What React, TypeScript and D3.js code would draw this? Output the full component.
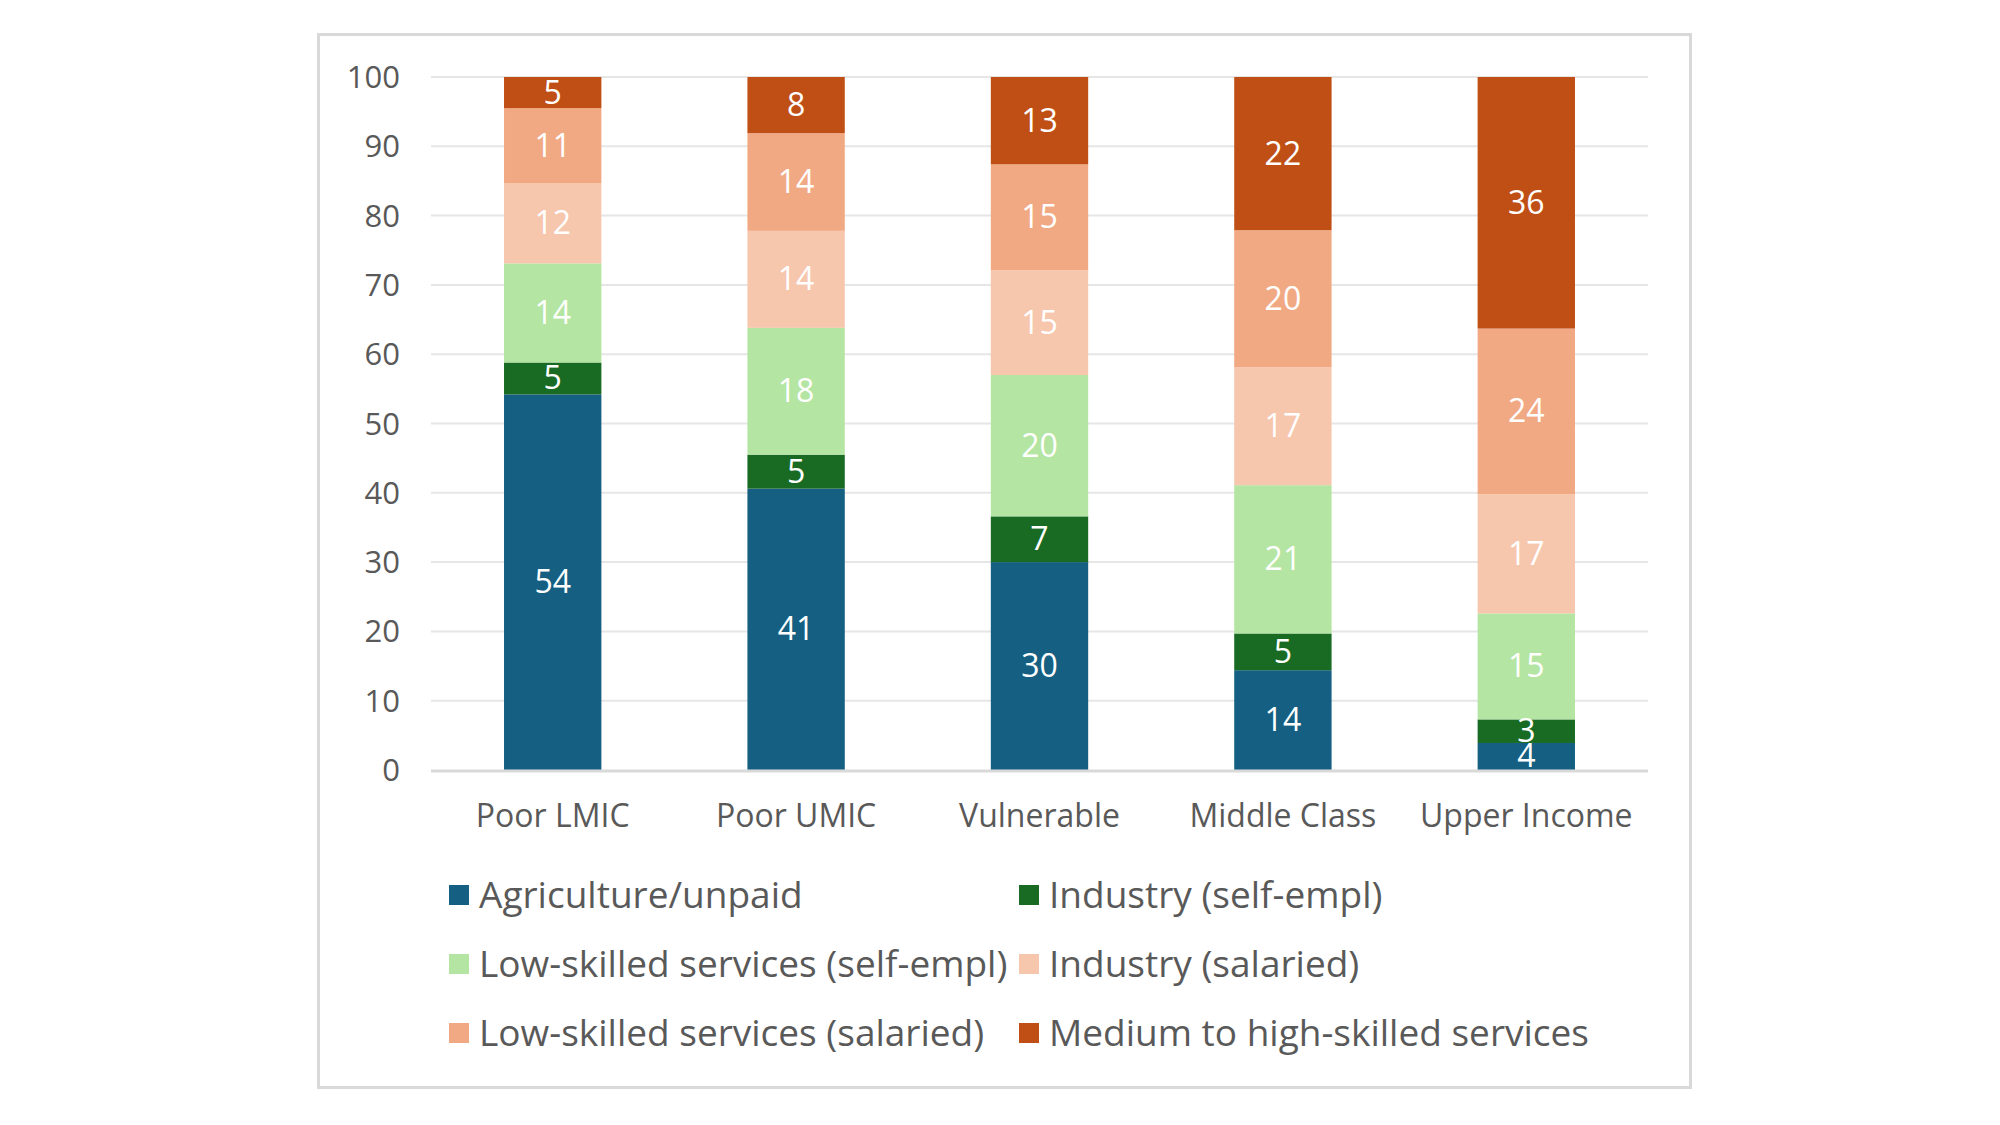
import React, { useEffect, useRef } from "react";
import * as d3 from "d3";

const categories = ["Poor LMIC", "Poor UMIC", "Vulnerable", "Middle Class", "Upper Income"];

const seriesNames = [
  "Agriculture/unpaid",
  "Industry (self-empl)",
  "Low-skilled services (self-empl)",
  "Industry (salaried)",
  "Low-skilled services (salaried)",
  "Medium to high-skilled services",
];

// shares (%) per category, bottom to top
const agriculture = [54.2, 40.6, 30.0, 14.4, 3.9];
const industrySelf = [4.6, 4.9, 6.6, 5.3, 3.4];
const lowSkilledSelf = [14.3, 18.3, 20.4, 21.4, 15.3];
const industrySalaried = [11.6, 14.0, 15.1, 17.0, 17.2];
const lowSkilledSalaried = [10.8, 14.1, 15.3, 19.8, 23.9];
const mediumHigh = [4.5, 8.1, 12.6, 22.1, 36.3];

const yTicks = [0, 10, 20, 30, 40, 50, 60, 70, 80, 90, 100];

const colors = ["#156082", "#196b24", "#b4e5a2", "#f6c6ad", "#f1a983", "#c04f15"];

const W = 2000;
const H = 1125;
const plot = { left: 431, right: 1648, top: 77, bottom: 770 };
const FONT = "'Open Sans', 'Liberation Sans', sans-serif";

const App: React.FC = () => {
  const svgRef = useRef<SVGSVGElement>(null);

  useEffect(() => {
    const svg = d3.select(svgRef.current);
    svg.selectAll("*").remove();

    const seriesValues = [
      agriculture,
      industrySelf,
      lowSkilledSelf,
      industrySalaried,
      lowSkilledSalaried,
      mediumHigh,
    ];
    const rows = categories.map((c, i) => {
      const row: Record<string, any> = { category: c };
      seriesNames.forEach((s, j) => (row[s] = seriesValues[j][i]));
      return row;
    });

    const stacked = d3.stack().keys(seriesNames)(rows as any);

    const x = d3
      .scaleBand()
      .domain(categories)
      .range([plot.left, plot.right])
      .paddingInner(0.6)
      .paddingOuter(0.3);

    const y = d3.scaleLinear().domain([0, 100]).range([plot.bottom, plot.top]);

    const color = d3.scaleOrdinal<string>().domain(seriesNames).range(colors);

    // outer frame
    svg
      .append("rect")
      .attr("x", 318.5)
      .attr("y", 34.5)
      .attr("width", 1372)
      .attr("height", 1053)
      .attr("fill", "#fff")
      .attr("stroke", "#d9d9d9")
      .attr("stroke-width", 3);

    // gridlines
    svg
      .append("g")
      .selectAll("line")
      .data(yTicks.filter((t) => t > 0))
      .enter()
      .append("line")
      .attr("x1", plot.left)
      .attr("x2", plot.right)
      .attr("y1", (d) => y(d))
      .attr("y2", (d) => y(d))
      .attr("stroke", "#e6e6e6")
      .attr("stroke-width", 2);

    // y tick labels
    svg
      .append("g")
      .selectAll("text")
      .data(yTicks)
      .enter()
      .append("text")
      .attr("x", 400)
      .attr("y", (d) => y(d) + 11)
      .attr("text-anchor", "end")
      .attr("font-family", FONT)
      .attr("font-size", 31)
      .attr("fill", "#595959")
      .text((d) => d);

    // bars
    const layer = svg
      .append("g")
      .selectAll("g")
      .data(stacked)
      .enter()
      .append("g")
      .attr("fill", (d) => color(d.key));

    layer
      .selectAll("rect")
      .data((d) => d)
      .enter()
      .append("rect")
      .attr("x", (d: any) => x(d.data.category) as number)
      .attr("y", (d) => y(d[1]))
      .attr("width", x.bandwidth())
      .attr("height", (d) => y(d[0]) - y(d[1]));

    // axis baseline
    svg
      .append("line")
      .attr("x1", plot.left)
      .attr("x2", plot.right)
      .attr("y1", y(0) + 1)
      .attr("y2", y(0) + 1)
      .attr("stroke", "#d9d9d9")
      .attr("stroke-width", 3);

    // value labels
    svg
      .append("g")
      .selectAll("g")
      .data(stacked)
      .enter()
      .append("g")
      .selectAll("text")
      .data((d) => d)
      .enter()
      .append("text")
      .attr("x", (d: any) => (x(d.data.category) as number) + x.bandwidth() / 2)
      .attr("y", (d) => (y(d[0]) + y(d[1])) / 2 + 11)
      .attr("text-anchor", "middle")
      .attr("font-family", FONT)
      .attr("font-size", 32)
      .attr("fill", "#fff")
      .text((d) => Math.round(d[1] - d[0]));

    // category labels
    svg
      .append("g")
      .selectAll("text")
      .data(categories)
      .enter()
      .append("text")
      .attr("x", (d) => (x(d) as number) + x.bandwidth() / 2)
      .attr("y", 827)
      .attr("text-anchor", "middle")
      .attr("font-family", FONT)
      .attr("font-size", 32)
      .attr("fill", "#595959")
      .text((d) => d);

    // legend: 2 columns, 3 rows
    const colX = [449, 1019];
    const rowY = [895, 964, 1033];
    const legend = svg
      .append("g")
      .selectAll("g")
      .data(seriesNames)
      .enter()
      .append("g")
      .attr("transform", (_, i) => `translate(${colX[i % 2]},${rowY[Math.floor(i / 2)]})`);

    legend
      .append("rect")
      .attr("x", 0)
      .attr("y", -10)
      .attr("width", 20)
      .attr("height", 20)
      .attr("fill", (d) => color(d));

    legend
      .append("text")
      .attr("x", 30)
      .attr("y", 13)
      .attr("font-family", FONT)
      .attr("font-size", 37)
      .attr("fill", "#595959")
      .text((d) => d);
  }, []);

  return (
    <svg
      ref={svgRef}
      width={W}
      height={H}
      style={{ position: "absolute", left: 0, top: 0, background: "#fff" }}
    />
  );
};

export default App;
